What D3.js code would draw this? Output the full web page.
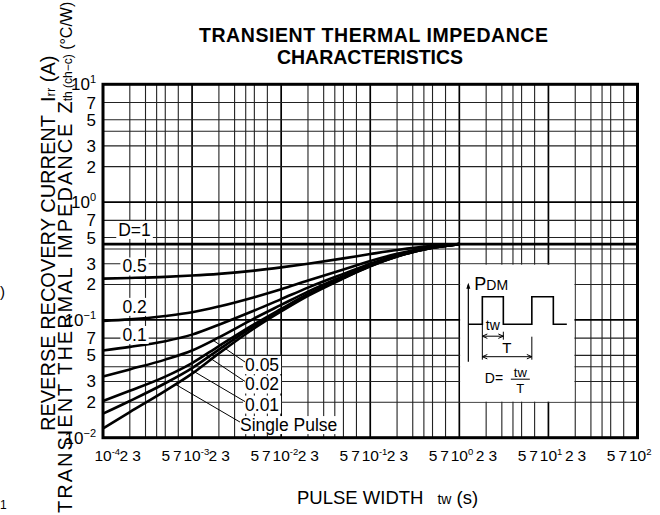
<!DOCTYPE html>
<html>
<head>
<meta charset="utf-8">
<script src="https://cdn.jsdelivr.net/npm/d3@7"></script>
<style>
body { margin: 0; background: #fff; }
svg { display: block; font-family: "Liberation Sans", Arial, sans-serif; }
</style>
</head>
<body>
<svg width="660" height="515"></svg>
<script>
// pulse width tw (s)
const pulseWidth = [1e-4, 2e-4, 5e-4, 1e-3, 2e-3, 5e-3, 1e-2, 2e-2, 5e-2, 1e-1, 2e-1, 5e-1, 1];
// Zth (°C/W) for each duty
const zthD05 = [0.224, 0.227, 0.232, 0.238, 0.246, 0.262, 0.279, 0.300, 0.333, 0.362, 0.392, 0.425, 0.44];
const zthD02 = [0.098, 0.101, 0.108, 0.116, 0.130, 0.156, 0.182, 0.216, 0.268, 0.316, 0.364, 0.416, 0.44];
const zthD01 = [0.055, 0.059, 0.066, 0.075, 0.091, 0.120, 0.150, 0.188, 0.246, 0.300, 0.354, 0.413, 0.44];
const zthD005 = [0.033, 0.038, 0.046, 0.055, 0.071, 0.103, 0.134, 0.174, 0.236, 0.293, 0.350, 0.411, 0.44];
const zthD002 = [0.0205, 0.025, 0.033, 0.043, 0.060, 0.092, 0.124, 0.166, 0.229, 0.288, 0.347, 0.410, 0.44];
const zthD001 = [0.0160, 0.0205, 0.029, 0.039, 0.056, 0.089, 0.121, 0.163, 0.227, 0.287, 0.346, 0.410, 0.44];
const zthSingle = [0.0120, 0.0165, 0.025, 0.035, 0.052, 0.085, 0.118, 0.160, 0.225, 0.285, 0.345, 0.410, 0.44];
const zthD1 = 0.44; // D=1 -> steady state

const seriesNames = ["0.5", "0.2", "0.1", "0.05", "0.02", "0.01", "Single Pulse"];
const seriesValues = [zthD05, zthD02, zthD01, zthD005, zthD002, zthD001, zthSingle];

// ticks
const xDecades = [-4, -3, -2, -1, 0, 1, 2];
const yDecades = [-2, -1, 0, 1];
const tickDigits = [2, 3, 5, 7];
const gridDigits = [2, 3, 4, 5, 7];

const svg = d3.select("svg");

const area = { left: 103, right: 637.5, top: 84.3, bottom: 437.7 };

const x = d3.scaleLog().domain([1e-4, 1e2]).range([area.left, area.right]);
const y = d3.scaleLog().domain([1e-2, 1e1]).range([area.bottom, area.top]);

// сетка
const grid = svg.append("g");
xDecades.slice(0, -1).forEach(k => {
    gridDigits.forEach(m => {
        const v = m * Math.pow(10, k);
        grid.append("line")
            .attr("x1", x(v)).attr("x2", x(v))
            .attr("y1", area.top).attr("y2", area.bottom)
            .attr("stroke", "#222").attr("stroke-width", 1.1);
    });
    if (k > -4) {
        const v = Math.pow(10, k);
        grid.append("line")
            .attr("x1", x(v)).attr("x2", x(v))
            .attr("y1", area.top).attr("y2", area.bottom)
            .attr("stroke", "#000").attr("stroke-width", 1.7);
    }
});
yDecades.slice(0, -1).forEach(k => {
    gridDigits.forEach(m => {
        const v = m * Math.pow(10, k);
        grid.append("line")
            .attr("x1", area.left).attr("x2", area.right)
            .attr("y1", y(v)).attr("y2", y(v))
            .attr("stroke", "#222").attr("stroke-width", 1.1);
    });
    if (k > -2) {
        const v = Math.pow(10, k);
        grid.append("line")
            .attr("x1", area.left).attr("x2", area.right)
            .attr("y1", y(v)).attr("y2", y(v))
            .attr("stroke", "#000").attr("stroke-width", 1.7);
    }
});

// inset box (covers grid from 1 to 20 s, 0.02 to 0.3)
const inset = { x0: x(1), x1: x(20), y0: y(0.3), y1: y(0.02) };
svg.append("rect")
    .attr("x", inset.x0 + 0.8).attr("y", inset.y0 + 1)
    .attr("width", inset.x1 - inset.x0 - 1.6).attr("height", inset.y1 - inset.y0 - 1.6)
    .attr("fill", "#fff");

// D=1 line
svg.append("line")
    .attr("x1", area.left).attr("x2", area.right)
    .attr("y1", y(zthD1)).attr("y2", y(zthD1))
    .attr("stroke", "#000").attr("stroke-width", 2.6);

// curves
const line = d3.line()
    .x(d => x(d[0]))
    .y(d => y(d[1]))
    .curve(d3.curveMonotoneX);

seriesValues.forEach(vals => {
    svg.append("path")
        .datum(pulseWidth.map((t, i) => [t, vals[i]]))
        .attr("d", line)
        .attr("fill", "none")
        .attr("stroke", "#000")
        .attr("stroke-width", 2.6)
        .attr("stroke-linejoin", "round");
});

// значение кривой в точке t (лог-интерполяция)
function valueAt(vals, t) {
    const lt = Math.log10(t);
    for (let i = 0; i < pulseWidth.length - 1; i++) {
        const a = Math.log10(pulseWidth[i]), b = Math.log10(pulseWidth[i + 1]);
        if (lt >= a && lt <= b) {
            const f = (lt - a) / (b - a);
            return Math.pow(10, Math.log10(vals[i]) + f * (Math.log10(vals[i + 1]) - Math.log10(vals[i])));
        }
    }
    return vals[0];
}

// labels with white background
function boxedLabel(txt, cx, cy, anchor, size) {
    const g = svg.append("g");
    const t = g.append("text")
        .attr("x", cx).attr("y", cy)
        .attr("text-anchor", anchor)
        .attr("dominant-baseline", "central")
        .attr("font-size", size)
        .text(txt);
    const bb = t.node().getBBox();
    g.insert("rect", "text")
        .attr("x", bb.x - 2).attr("y", bb.y + 1)
        .attr("width", bb.width + 4).attr("height", bb.height - 2)
        .attr("fill", "#fff");
    return g;
}

boxedLabel("D=1", x(2.26e-4), y(0.58), "middle", 17.5);
boxedLabel("0.5", x(2.26e-4), y(0.284), "middle", 17.5);
boxedLabel("0.2", x(2.26e-4), y(0.129), "middle", 17.5);
boxedLabel("0.1", x(2.26e-4), y(0.0745), "middle", 17.5);

// small duty labels with leader lines
const leaderTargets = [
    { vals: zthD005, t: 1.72e-3, name: "0.05", lt: 3.93e-3, lv: 0.0414 },
    { vals: zthD002, t: 1.40e-3, name: "0.02", lt: 3.93e-3, lv: 0.0283 },
    { vals: zthD001, t: 9.5e-4, name: "0.01", lt: 3.93e-3, lv: 0.0191 },
    { vals: zthSingle, t: 6.5e-4, name: "Single Pulse", lt: 3.45e-3, lv: 0.0128 }
];
leaderTargets.forEach(d => {
    const lx = x(d.lt), ly = y(d.lv);
    boxedLabel(d.name, lx, ly, "start", 17.5);
    svg.append("line")
        .attr("x1", lx).attr("y1", ly - 3)
        .attr("x2", x(d.t)).attr("y2", y(valueAt(d.vals, d.t)))
        .attr("stroke", "#000").attr("stroke-width", 1);
});

// inset drawing
const ix = inset.x0, iy = inset.y0;
const ins = svg.append("g").attr("transform", `translate(${ix},${iy})`);
ins.append("line").attr("x1", 9).attr("x2", 9).attr("y1", 98).attr("y2", 21)
    .attr("stroke", "#000").attr("stroke-width", 1.2);
ins.append("path").attr("d", "M9,19 L7,25 L11,25 Z").attr("fill", "#000");
const ptxt = ins.append("text").attr("x", 15).attr("y", 26).attr("font-size", 18);
ptxt.append("tspan").text("P");
ptxt.append("tspan").attr("font-size", 14).text("DM");
ins.append("path")
    .attr("d", "M9,60.5 H23 V33 H44 V60.5 H72.5 V33 H94 V60.5 H107.5")
    .attr("fill", "none").attr("stroke", "#000").attr("stroke-width", 1.6);
ins.append("text").attr("x", 33.5).attr("y", 66).attr("text-anchor", "middle")
    .attr("font-size", 14).text("tw");
ins.append("line").attr("x1", 23).attr("x2", 23).attr("y1", 60.5).attr("y2", 96)
    .attr("stroke", "#000").attr("stroke-width", 1);
ins.append("line").attr("x1", 44).attr("x2", 44).attr("y1", 68).attr("y2", 76)
    .attr("stroke", "#000").attr("stroke-width", 1);
ins.append("line").attr("x1", 72.5).attr("x2", 72.5).attr("y1", 73).attr("y2", 96)
    .attr("stroke", "#000").attr("stroke-width", 1);
function hArrow(x1, x2, yy) {
    ins.append("line").attr("x1", x1).attr("x2", x2).attr("y1", yy).attr("y2", yy)
        .attr("stroke", "#000").attr("stroke-width", 1);
    ins.append("path").attr("d", `M${x1},${yy} l5,-2.2 M${x1},${yy} l5,2.2 M${x2},${yy} l-5,-2.2 M${x2},${yy} l-5,2.2`)
        .attr("stroke", "#000").attr("stroke-width", 1).attr("fill", "none");
}
hArrow(23, 44, 72.5);
hArrow(23, 72.5, 93);
ins.append("text").attr("x", 47.5).attr("y", 89.5).attr("text-anchor", "middle")
    .attr("font-size", 15).text("T");
ins.append("text").attr("x", 25.5).attr("y", 119.5).attr("font-size", 14).text("D=");
ins.append("text").attr("x", 61).attr("y", 113).attr("text-anchor", "middle")
    .attr("font-size", 13).text("tw");
ins.append("line").attr("x1", 51.5).attr("x2", 70.5).attr("y1", 115.5).attr("y2", 115.5)
    .attr("stroke", "#000").attr("stroke-width", 1);
ins.append("text").attr("x", 61).attr("y", 129.5).attr("text-anchor", "middle")
    .attr("font-size", 13).text("T");

// рамка
svg.append("rect")
    .attr("x", area.left).attr("y", area.top)
    .attr("width", area.right - area.left).attr("height", area.bottom - area.top)
    .attr("fill", "none").attr("stroke", "#000").attr("stroke-width", 3);

// X tick labels ("10" centred on the decade line, digits packed like the print)
const xLab = svg.append("g").attr("font-size", 15.5);
const digitShift = { 2: -6, 3: -9, 5: 0.5, 7: -1 };
xDecades.forEach(k => {
    const t = xLab.append("text").attr("x", x(Math.pow(10, k)) - 8.6).attr("y", 461);
    t.append("tspan").text("10");
    t.append("tspan").attr("font-size", 9.5).attr("dy", -6).text(k < 0 ? "-" + (-k) : k);
    if (k < 2) {
        tickDigits.forEach(m => {
            xLab.append("text")
                .attr("x", x(m * Math.pow(10, k)) + digitShift[m])
                .attr("y", 461)
                .attr("text-anchor", "middle")
                .text(m);
        });
    }
});

// Y tick labels
const yLab = svg.append("g").attr("font-size", 17).attr("text-anchor", "end");
yDecades.forEach(k => {
    const t = yLab.append("text").attr("x", 96).attr("y", y(Math.pow(10, k)) + 6);
    t.append("tspan").text("10");
    t.append("tspan").attr("font-size", 11).attr("dy", -7).text(k < 0 ? "−" + (-k) : k);
    if (k < 1) {
        tickDigits.forEach(m => {
            yLab.append("text")
                .attr("x", 96)
                .attr("y", y(m * Math.pow(10, k)) + 6)
                .text(m);
        });
    }
});

// title
svg.append("text").attr("x", 373.5).attr("y", 41.5).attr("text-anchor", "middle")
    .attr("font-size", 19.5).attr("font-weight", "bold")
    .attr("textLength", 349).attr("lengthAdjust", "spacing")
    .text("TRANSIENT THERMAL IMPEDANCE");
svg.append("text").attr("x", 370).attr("y", 64).attr("text-anchor", "middle")
    .attr("font-size", 19.5).attr("font-weight", "bold")
    .attr("textLength", 186).attr("lengthAdjust", "spacing")
    .text("CHARACTERISTICS");

// X title
const xt = svg.append("text").attr("x", 297).attr("y", 504).attr("font-size", 18.5);
xt.append("tspan").text("PULSE WIDTH");
xt.append("tspan").attr("dx", 14).attr("font-size", 14).text("tw");
xt.append("tspan").text(" (s)");

// Y titles (rotated)
const yt1 = svg.append("text").attr("transform", "translate(55,431) rotate(-90)").attr("font-size", 20);
yt1.append("tspan").text("REVERSE RECOVERY CURRENT");
yt1.append("tspan").attr("dx", 13).text("I");
yt1.append("tspan").attr("font-size", 13).text("rr");
yt1.append("tspan").text(" (A)");

const yt2 = svg.append("text").attr("transform", "translate(72,513) rotate(-90)").attr("font-size", 20);
yt2.append("tspan").attr("letter-spacing", 2).text("TRANSIENT THERMAL IMPEDANCE");
yt2.append("tspan").attr("dx", 8).text("Z");
yt2.append("tspan").attr("font-size", 12).text("th (ch−c)");
yt2.append("tspan").attr("font-size", 16).text(" (°C/W)");

// clipped fragments of the neighbouring chart at the left edge
svg.append("text").attr("x", 0).attr("y", 297).attr("font-size", 15).text(")");
svg.append("text").attr("x", 0).attr("y", 509).attr("font-size", 12).text("1");
</script>
</body>
</html>
